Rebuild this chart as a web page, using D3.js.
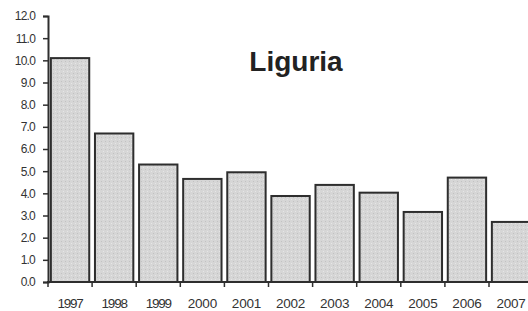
<!DOCTYPE html>
<html>
<head>
<meta charset="utf-8">
<script src="https://cdn.jsdelivr.net/npm/d3@7"></script>
<style>
  body { margin: 0; background: #fff; }
  svg { display: block; }
  .tick text { font-family: "Liberation Sans", Arial, sans-serif; fill: #333; }
</style>
</head>
<body>
<svg></svg>
<script>
const years = ["1997","1998","1999","2000","2001","2002","2003","2004","2005","2006","2007"];
const values = [10.1, 6.7, 5.3, 4.65, 4.95, 3.88, 4.38, 4.03, 3.16, 4.71, 2.71];
const yTicks = [0,1,2,3,4,5,6,7,8,9,10,11,12];

const width = 528, height = 311;
const margin = {top: 16, right: 0, bottom: 29, left: 48};

const svg = d3.select("svg")
    .attr("width", width)
    .attr("height", height);

// stipple pattern for the grey bars
const defs = svg.append("defs");
const pat = defs.append("pattern")
    .attr("id", "stipple")
    .attr("width", 4).attr("height", 4)
    .attr("patternUnits", "userSpaceOnUse");
pat.append("rect").attr("width", 4).attr("height", 4).attr("fill", "#d6d6d6");
pat.append("rect").attr("x", 1).attr("y", 1).attr("width", 1).attr("height", 1).attr("fill", "#c2c2c2");
pat.append("rect").attr("x", 3).attr("y", 3).attr("width", 1).attr("height", 1).attr("fill", "#e6e6e6");

const x = d3.scaleBand()
    .domain(years)
    .range([margin.left, margin.left + 44.1 * years.length])
    .paddingInner(0.13)
    .paddingOuter(0.065);

const y = d3.scaleLinear()
    .domain([0, 12])
    .range([282, 16]);

// bars
svg.selectAll(".bar").data(values)
    .enter()
    .append("rect")
    .attr("class", "bar")
    .attr("x", (d, i) => x(years[i]))
    .attr("y", d => y(d))
    .attr("width", x.bandwidth())
    .attr("height", d => y(0) - y(d))
    .attr("fill", "url(#stipple)")
    .attr("stroke", "#2e2e2e")
    .attr("stroke-width", 2);

// y axis
const yAxis = d3.axisLeft(y)
    .tickValues(yTicks)
    .tickFormat(d3.format(".1f"))
    .tickSize(5)
    .tickPadding(8);

const gy = svg.append("g")
    .attr("class", "y axis")
    .attr("transform", `translate(${margin.left},0)`)
    .call(yAxis);
gy.select(".domain").attr("stroke", "#2e2e2e").attr("stroke-width", 2);
gy.selectAll(".tick line").attr("stroke", "#2e2e2e").attr("stroke-width", 1.5);
gy.selectAll(".tick text")
    .style("font-size", "12px")
    .style("letter-spacing", "-0.8px");

// x axis: ticks sit between the bars
const xAxis = d3.axisBottom(x).tickSize(0).tickPadding(16);
const gx = svg.append("g")
    .attr("class", "x axis")
    .attr("transform", `translate(0,${y(0)})`)
    .call(xAxis);
gx.select(".domain")
    .attr("d", `M${margin.left - 1},0H${width}`)
    .attr("stroke", "#2e2e2e").attr("stroke-width", 2);
gx.selectAll(".tick text")
    .style("font-size", "13.5px")
    .style("letter-spacing", d => +d < 2000 ? "-1.2px" : "-0.2px");

const step = x.step();
gx.selectAll(".sep").data(d3.range(years.length))
    .enter()
    .append("line")
    .attr("class", "sep")
    .attr("x1", i => margin.left + i * step)
    .attr("x2", i => margin.left + i * step)
    .attr("y1", 0).attr("y2", 5)
    .attr("stroke", "#2e2e2e").attr("stroke-width", 1.5);

// title
svg.append("text")
    .attr("x", 296)
    .attr("y", 71)
    .attr("text-anchor", "middle")
    .style("font-family", "\"Liberation Sans\", Arial, sans-serif")
    .style("font-weight", "bold")
    .style("font-size", "28px")
    .style("fill", "#222")
    .text("Liguria");
</script>
</body>
</html>
